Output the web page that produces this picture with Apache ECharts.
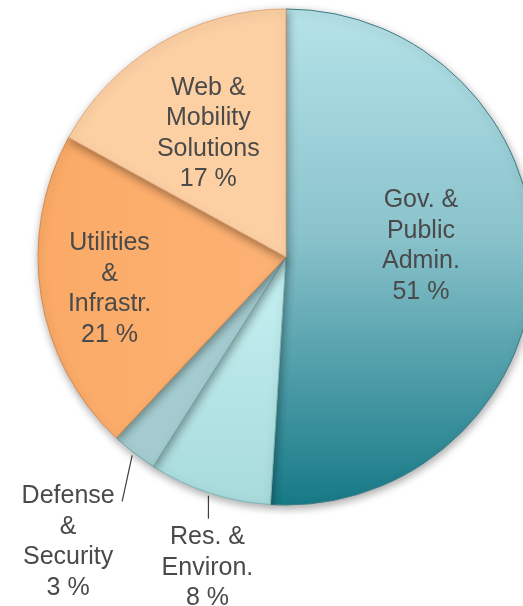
<!DOCTYPE html>
<html>
<head>
<meta charset="utf-8">
<script src="https://cdn.jsdelivr.net/npm/echarts@6/dist/echarts.min.js"></script>
<style>
html,body{margin:0;padding:0;background:#fff;}
#chart{width:523px;height:606px;}
</style>
</head>
<body>
<div id="chart"></div>
<script>
// Data
const categories = ['Gov. &\nPublic\nAdmin.', 'Res. &\nEnviron.', 'Defense\n&\nSecurity', 'Utilities\n&\nInfrastr.', 'Web &\nMobility\nSolutions'];
const shares = [51, 8, 3, 21, 17];

// Styles
const fills = [
  {type:'linear',x:0,y:0,x2:0,y2:1,colorStops:[{offset:0,color:'#B6E3E9'},{offset:0.45,color:'#8BC3CC'},{offset:1,color:'#167A87'}]},
  {type:'linear',x:0,y:0,x2:0,y2:1,colorStops:[{offset:0,color:'#C6F1F2'},{offset:1,color:'#A8DADC'}]},
  '#A4CCD0',
  {type:'linear',x:0,y:0,x2:1,y2:0,colorStops:[{offset:0,color:'#FBAA66'},{offset:1,color:'#FCB274'}]},
  '#FDD0A4'
];
const borders = ['#3d7c86','#7fb6b9','#78a6aa','#d98a4c','#e3a879'];
const outside = [false, true, true, false, false];
const insideShift = [[8,-15],[0,0],[0,0],[-51,12],[-13,-14]];
const lineVec = [[0,0],[0,23],[-10,46],[0,0],[0,0]];
const lineGap = [0,3,3,0,0];
const labelShift = [[0,0],[-1,49],[-54,41],[0,0],[0,0]];

const chart = echarts.init(document.getElementById('chart'));
const data = categories.map((c, i) => ({
  name: c,
  value: shares[i],
  itemStyle: {color: fills[i], borderColor: borders[i], borderWidth: 1},
  label: {position: outside[i] ? 'outside' : 'inside'},
  labelLine: {show: outside[i], length: 20, length2: 0, lineStyle: {color: '#404040', width: 1.2}}
}));

chart.setOption({
  animation: false,
  series: [{
    type: 'pie',
    center: [286, 257],
    radius: [0, 248],
    startAngle: 90,
    clockwise: true,
    avoidLabelOverlap: false,
    itemStyle: {shadowBlur: 8, shadowColor: 'rgba(0,0,0,0.35)', shadowOffsetX: 1, shadowOffsetY: 3},
    label: {
      show: true,
      formatter: p => p.name + '\n' + p.value + ' %',
      fontFamily: 'Liberation Sans, Arial, sans-serif',
      fontSize: 25,
      lineHeight: 30.5,
      color: '#4a4a4a',
      align: 'center'
    },
    labelLayout: function (params) {
      const i = params.dataIndex;
      if (!outside[i]) {
        return {dx: insideShift[i][0], dy: insideShift[i][1]};
      }
      const pts = params.labelLinePoints;
      if (!pts) return {};
      const s = pts[0];
      const dirX = s[0] - 286, dirY = s[1] - 257;
      const len = Math.sqrt(dirX * dirX + dirY * dirY);
      const start = [s[0] + dirX / len * lineGap[i], s[1] + dirY / len * lineGap[i]];
      const end = [start[0] + lineVec[i][0], start[1] + lineVec[i][1]];
      return {
        x: end[0] + labelShift[i][0],
        y: end[1] + labelShift[i][1],
        align: 'center',
        verticalAlign: 'middle',
        labelLinePoints: [start, end]
      };
    },
    data: data
  }]
});
</script>
</body>
</html>
